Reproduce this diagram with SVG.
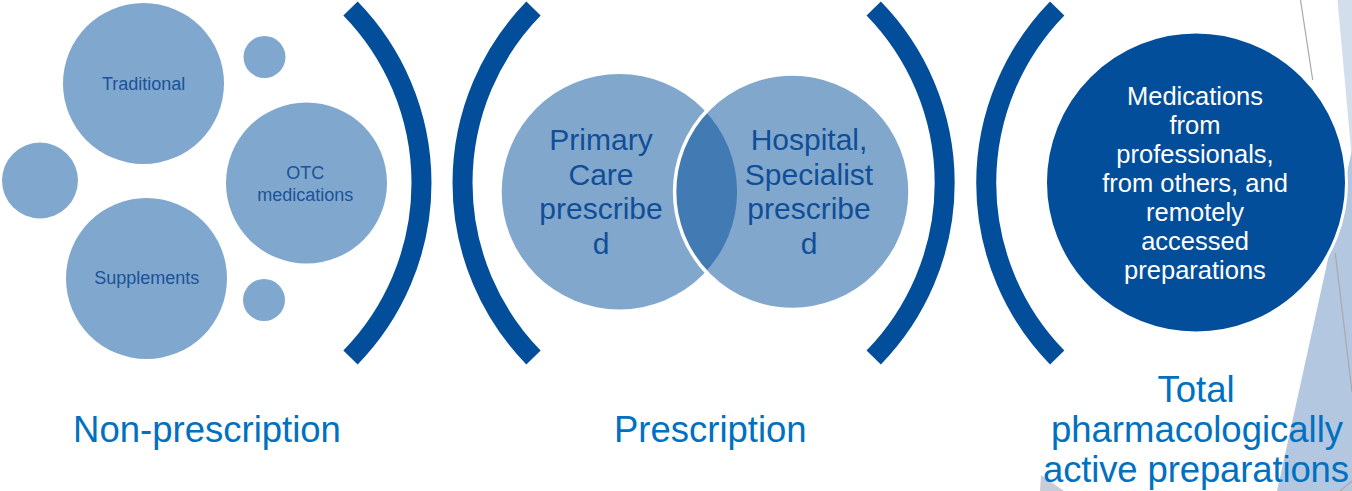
<svg xmlns="http://www.w3.org/2000/svg" width="1352" height="491" viewBox="0 0 1352 491">
<style>
  .bg { fill: #ffffff; }
  .lc { fill: #80a7cd; }
  .vn { fill: #034f9b; fill-opacity: 0.5; }
  .br { fill: none; stroke: #034e9a; stroke-width: 20; stroke-linecap: butt; }
  .gl { stroke: #a9a9a9; stroke-width: 1.2; fill: none; }
  .t-sm { font-family: "Liberation Sans", Arial, sans-serif; font-size: 18px; fill: #1a5399; text-anchor: middle; }
  .t-vn { font-family: "Liberation Sans", Arial, sans-serif; font-size: 30px; fill: #0f4e98; text-anchor: middle; }
  .t-wh { font-family: "Liberation Sans", Arial, sans-serif; font-size: 25.5px; fill: #ffffff; text-anchor: middle; }
  .t-lb { font-family: "Liberation Sans", Arial, sans-serif; font-size: 36.5px; fill: #0070c0; text-anchor: middle; }
</style>
<rect class="bg" x="0" y="0" width="1352" height="491"/>

<g id="background">
  <polygon points="1337.5,0 1352,0 1352,160" fill="#d2deec"/>
  <polygon points="1352,150 1352,491 1277,491" fill="#b3c7e0"/>
  <line class="gl" x1="1300.5" y1="0" x2="1312.7" y2="80"/>
  <line class="gl" x1="1335.3" y1="253" x2="1352" y2="392"/>
  <polygon points="1041,475 1064,491 1040,491" fill="#c8ccd6"/>
  <line class="gl" x1="1340" y1="491" x2="1352" y2="481"/>
</g>

<g id="brackets">
  <path class="br" d="M 350.5 8.5 A 250 250 0 0 1 350.5 357.5"/>
  <path class="br" d="M 533.5 8.5 A 250 250 0 0 0 533.5 357.5"/>
  <path class="br" d="M 873.7 8.5 A 250 250 0 0 1 873.7 357.5"/>
  <path class="br" d="M 1057.2 8.5 A 250 250 0 0 0 1057.2 357.5"/>
</g>

<g id="traditional">
  <circle class="lc" cx="143.5" cy="83.5" r="80.5"/>
  <text class="t-sm" x="143.7" y="90">Traditional</text>
</g>
<g id="small-top">
  <circle class="lc" cx="264.5" cy="57" r="21"/>
</g>
<g id="small-left">
  <circle class="lc" cx="40" cy="180.5" r="38"/>
</g>
<g id="otc">
  <circle class="lc" cx="306.5" cy="183" r="80.5"/>
  <text class="t-sm" x="305.3" y="179">OTC</text>
  <text class="t-sm" x="305.3" y="200.5">medications</text>
</g>
<g id="supplements">
  <circle class="lc" cx="146.5" cy="278.5" r="80.5"/>
  <text class="t-sm" x="146.7" y="284">Supplements</text>
</g>
<g id="small-bottom">
  <circle class="lc" cx="264" cy="300" r="21"/>
</g>

<g id="primary-care">
  <circle class="vn" cx="619.4" cy="191.7" r="117.7"/>
</g>
<g id="hospital-specialist">
  <circle class="vn" cx="792.3" cy="191.7" r="117.7" stroke="#ffffff" stroke-width="3.5"/>
</g>
<g id="venn-labels">
  <text class="t-vn" x="601" y="150">Primary</text>
  <text class="t-vn" x="601" y="184.7">Care</text>
  <text class="t-vn" x="601" y="219.3">prescribe</text>
  <text class="t-vn" x="601" y="254">d</text>
  <text class="t-vn" x="809" y="150">Hospital,</text>
  <text class="t-vn" x="809" y="184.7">Specialist</text>
  <text class="t-vn" x="809" y="219.3">prescribe</text>
  <text class="t-vn" x="809" y="254">d</text>
</g>

<g id="total-medications">
  <circle cx="1196" cy="182.5" r="150.5" fill="#034e9a" stroke="#ffffff" stroke-width="3"/>
  <text class="t-wh" x="1195" y="104.5">Medications</text>
  <text class="t-wh" x="1195" y="133.5">from</text>
  <text class="t-wh" x="1195" y="162.5">professionals,</text>
  <text class="t-wh" x="1195" y="191.5">from others, and</text>
  <text class="t-wh" x="1195" y="220.5">remotely</text>
  <text class="t-wh" x="1195" y="249.5">accessed</text>
  <text class="t-wh" x="1195" y="278.5">preparations</text>
</g>

<g id="labels">
  <text class="t-lb" x="207" y="441.7">Non-prescription</text>
  <text class="t-lb" x="710.3" y="441.7">Prescription</text>
  <text class="t-lb" x="1196" y="401.7" font-size="37">Total</text>
  <text class="t-lb" x="1197" y="441.7" font-size="37">pharmacologically</text>
  <text class="t-lb" x="1196" y="482.3" font-size="37" textLength="306" lengthAdjust="spacing">active preparations</text>
</g>
</svg>
